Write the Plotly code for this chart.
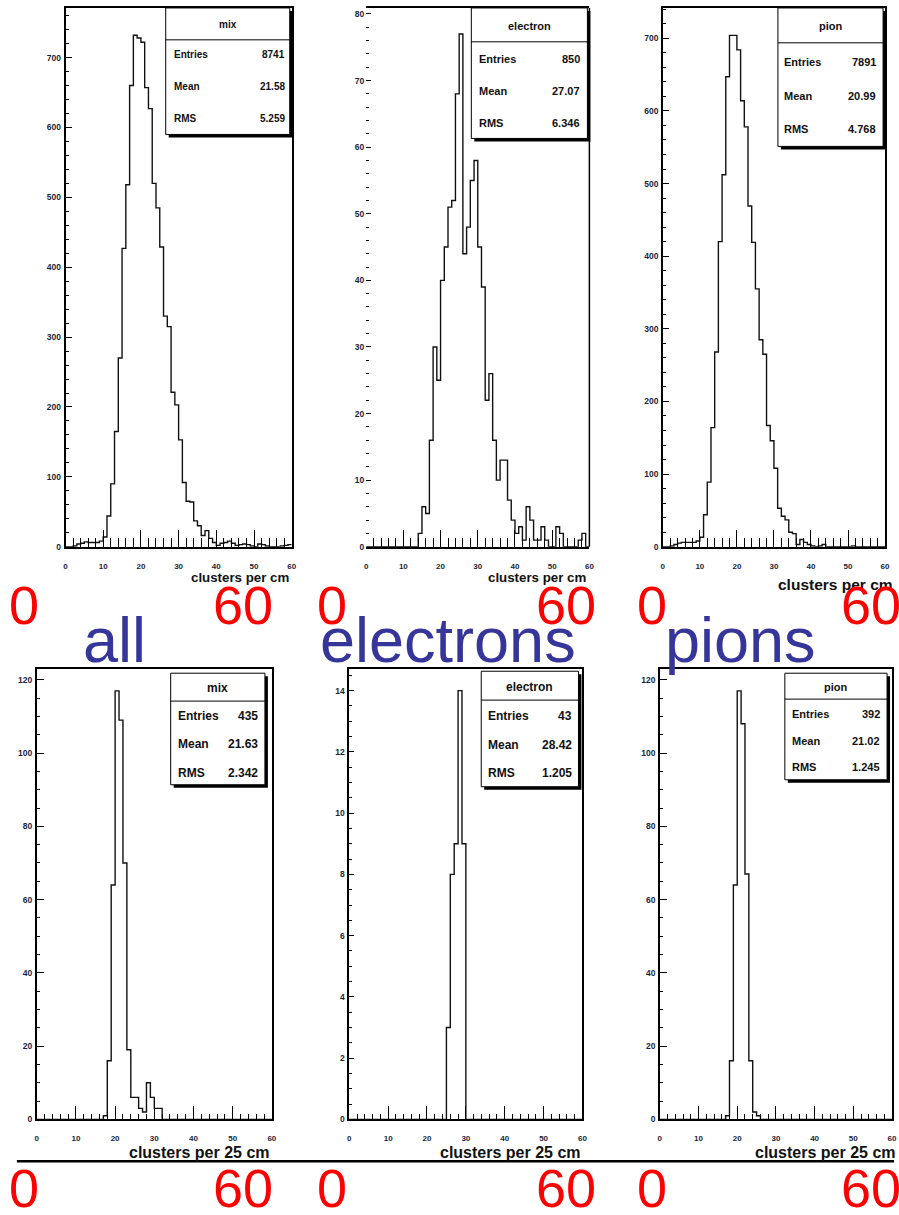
import plotly.graph_objects as go

W, H = 899, 1215
N_BINS = 60
X_RANGE = [0, 60]

# ---------------- data (bin counts, 1-unit bins from 0 to 60) ----------------
mix_cm_first = 2
mix_cm_counts = [1, 4, 5, 7, 6, 6, 6, 8,
                 14, 44, 90, 165, 270, 427, 518, 660, 732, 728,
                 722, 657, 627, 520, 485, 429, 330, 315, 221, 203,
                 153, 92, 65, 64, 37, 30, 16, 23, 12, 6,
                 2, 5, 6, 8, 5, 2, 3, 4, 3, 1,
                 0, 4, 3, 1, 0, 0, 0, 1, 2, 3]

electron_cm_first = 14
electron_cm_counts = [2, 6, 5, 16, 30, 25,
                      40, 45, 51, 52, 68, 77, 44, 48, 55, 58,
                      45, 39, 22, 26, 16, 10, 13, 13, 7, 4,
                      2, 3, 1, 6, 4, 1, 1, 3, 1, 0,
                      0, 3, 2, 0, 0, 0, 0, 1, 2, 0]

pion_cm_first = 2
pion_cm_counts = [1, 3, 5, 6, 6, 6, 6, 8,
                  13, 44, 89, 164, 268, 420, 512, 647, 704, 704,
                  684, 614, 578, 469, 419, 355, 285, 265, 167, 146,
                  108, 53, 42, 37, 20, 18, 3, 10, 6, 3,
                  1, 0, 1, 3, 0, 0, 0, 0, 0, 0,
                  0, 1]

mix_25_first = 17
mix_25_counts = [1, 16, 64, 117, 109, 70, 19, 6, 6, 3, 2, 10, 6, 3, 3]

electron_25_first = 25
electron_25_counts = [3, 8, 9, 14, 9]

pion_25_first = 17
pion_25_counts = [1, 16, 64, 117, 108, 67, 16, 2, 1]

stat_titles = ["mix", "electron", "pion", "mix", "electron", "pion"]
stat_entries = ["8741", "850", "7891", "435", "43", "392"]
stat_means = ["21.58", "27.07", "20.99", "21.63", "28.42", "21.02"]
stat_rms = ["5.259", "6.346", "4.768", "2.342", "1.205", "1.245"]

x_titles = ["clusters per cm", "clusters per cm", "clusters per cm",
            "clusters per 25 cm", "clusters per 25 cm", "clusters per 25 cm"]
column_labels = ["all", "electrons", "pions"]
range_labels = ["0", "60"]

# ---------------- helpers ----------------
FONT = "Liberation Sans, Arial, Helvetica, sans-serif"
TICKC = "#1b1f3b"


def full(first, counts):
    v = [0] * first + list(counts)
    v += [0] * (N_BINS - len(v))
    return v[:N_BINS]


def fx(px):
    return px / W


def fy(py):
    return 1 - py / H


series = [full(mix_cm_first, mix_cm_counts),
          full(electron_cm_first, electron_cm_counts),
          full(pion_cm_first, pion_cm_counts),
          full(mix_25_first, mix_25_counts),
          full(electron_25_first, electron_25_counts),
          full(pion_25_first, pion_25_counts)]

edges = list(range(X_RANGE[0], X_RANGE[1] + 1))

panels = [
    dict(frame=(64, 8, 292, 549), ymax=771, ydt=100, ymn=20, ytl=7, yml=4, xtl=17, xml=9, left=True,
         ytf=8.5, xtf=8, xso=11),
    dict(frame=(367, 8, 592, 549), ymax=80.9, ydt=10, ymn=2, ytl=5, yml=3, xtl=17, xml=9, left=False,
         ytf=8.5, xtf=8, xso=11),
    dict(frame=(666, 8, 890, 549), ymax=741.7, ydt=100, ymn=20, ytl=6, yml=3, xtl=17, xml=9, left=True,
         ytf=8.5, xtf=8, xso=11),
    dict(frame=(35, 672, 272, 1124), ymax=122.9, ydt=20, ymn=5, ytl=8, yml=4, xtl=14, xml=6, left=True,
         ytf=8.5, xtf=8, xso=10),
    dict(frame=(350, 672, 585, 1124), ymax=14.7, ydt=2, ymn=0.5, ytl=5, yml=3, xtl=14, xml=6, left=True,
         ytf=8.5, xtf=8, xso=10),
    dict(frame=(663, 672, 897, 1124), ymax=122.9, ydt=20, ymn=5, ytl=7, yml=3, xtl=14, xml=6, left=True,
         ytf=8.5, xtf=8, xso=10),
]

fig = go.Figure()
layout = dict(width=W, height=H, autosize=False, margin=dict(l=0, r=0, t=0, b=0),
              paper_bgcolor="white", plot_bgcolor="white", showlegend=False)

shapes = []
annotations = []

for i, (p, counts) in enumerate(zip(panels, series)):
    n = "" if i == 0 else str(i + 1)
    x0, y0, x1, y1 = p["frame"]
    fig.add_trace(go.Scatter(
        x=edges, y=counts + [counts[-1]], mode="lines", line_shape="hv",
        line=dict(color="#111111", width=1.4), xaxis="x" + n, yaxis="y" + n,
        hoverinfo="skip"))
    layout["xaxis" + n] = dict(
        domain=[fx(x0), fx(x1)], anchor="y" + n, range=X_RANGE,
        showgrid=False, zeroline=False, showline=True, mirror=True,
        linecolor="black", linewidth=1.5,
        ticks="inside", ticklen=p["xtl"], tickwidth=1, tickcolor="black",
        tick0=0, dtick=10, ticklabelstandoff=p["xso"],
        tickfont=dict(family=FONT, size=p["xtf"], color=TICKC, weight="bold"),
        minor=dict(ticks="inside", dtick=2, tick0=0, ticklen=p["xml"], tickwidth=1,
                   tickcolor="black", showgrid=False))
    layout["yaxis" + n] = dict(
        domain=[fy(y1), fy(y0)], anchor="x" + n, range=[0, p["ymax"]],
        showgrid=False, zeroline=False, showline=p["left"], mirror=True,
        linecolor="black", linewidth=1.5,
        ticks="inside", ticklen=p["ytl"], tickwidth=1, tickcolor="black",
        tick0=0, dtick=p["ydt"], ticklabelstandoff=1,
        tickfont=dict(family=FONT, size=p["ytf"], color=TICKC, weight="bold"),
        minor=dict(ticks="inside", dtick=p["ymn"], tick0=0, ticklen=p["yml"], tickwidth=1,
                   tickcolor="black", showgrid=False))
    if not p["left"]:
        shapes.append(dict(type="line", xref="paper", yref="paper",
                           x0=fx(x1), x1=fx(x1), y0=fy(y0), y1=fy(y1),
                           line=dict(color="black", width=1.5), layer="above"))

# ---------------- stats boxes ----------------
boxes = [
    dict(r=(165, 8, 290, 135), tl=40, ty=25, rows=(55, 87, 119), lx=171, vx=287, fs=10),
    dict(r=(473, 8, 590, 139), tl=42, ty=26, rows=(59, 91, 124), lx=479, vx=585, fs=11),
    dict(r=(782, 8, 888, 147), tl=43, ty=26, rows=(62, 96, 130), lx=786, vx=883, fs=11),
    dict(r=(170, 676, 265, 788), tl=704, ty=691, rows=(719, 747, 776), lx=175, vx=260, fs=12),
    dict(r=(483, 674, 581, 790), tl=703, ty=690, rows=(719, 748, 776), lx=488, vx=576, fs=12),
    dict(r=(789, 676, 892, 783), tl=702, ty=690, rows=(717, 744, 770), lx=794, vx=887, fs=11),
]

for i, b in enumerate(boxes):
    x0, y0, x1, y1 = b["r"]
    shapes.append(dict(type="rect", xref="paper", yref="paper",
                       x0=fx(x0 + 3), x1=fx(x1 + 3), y0=fy(y1 + 3), y1=fy(y0 + 3),
                       fillcolor="black", line=dict(width=0), layer="above"))
    shapes.append(dict(type="rect", xref="paper", yref="paper",
                       x0=fx(x0), x1=fx(x1), y0=fy(y1), y1=fy(y0),
                       fillcolor="white", line=dict(color="black", width=1), layer="above"))
    shapes.append(dict(type="line", xref="paper", yref="paper",
                       x0=fx(x0), x1=fx(x1), y0=fy(b["tl"]), y1=fy(b["tl"]),
                       line=dict(color="black", width=1), layer="above"))
    fnt = dict(family=FONT, size=b["fs"], color="#111111", weight="bold")
    annotations.append(dict(text=stat_titles[i], x=fx((x0 + x1) / 2), y=fy(b["ty"]),
                            xref="paper", yref="paper", showarrow=False,
                            xanchor="center", yanchor="middle", font=fnt))
    for lab, val, ry in zip(["Entries", "Mean", "RMS"],
                            [stat_entries[i], stat_means[i], stat_rms[i]], b["rows"]):
        annotations.append(dict(text=lab, x=fx(b["lx"]), y=fy(ry), xref="paper", yref="paper",
                                showarrow=False, xanchor="left", yanchor="middle", font=fnt))
        annotations.append(dict(text=val, x=fx(b["vx"]), y=fy(ry), xref="paper", yref="paper",
                                showarrow=False, xanchor="right", yanchor="middle", font=fnt))

# ---------------- axis titles ----------------
xt_pos = [(291, 580, "right", 13.3), (591, 580, "right", 13.3), (780, 587, "left", 15.5),
          (272, 1157, "right", 16), (586, 1157, "right", 16), (757, 1157, "left", 16)]
for t, (xp, yp, anc, fs) in zip(x_titles, xt_pos):
    annotations.append(dict(text=t, x=fx(xp), y=fy(yp), xref="paper", yref="paper",
                            showarrow=False, xanchor=anc, yanchor="middle",
                            font=dict(family=FONT, size=fs, color="#111111", weight="bold")))

# ---------------- big red range labels ----------------
red_x = [(22, 243), (333, 568), (655, 876)]
for yp in (608, 1193):
    for (a, b_) in red_x:
        for lab, xp in zip(range_labels, (a, b_)):
            annotations.append(dict(text=lab, x=fx(xp), y=fy(yp), xref="paper", yref="paper",
                                    showarrow=False, xanchor="center", yanchor="middle",
                                    font=dict(family=FONT, size=54, color="#ff0000")))

# ---------------- blue column labels ----------------
for lab, xp in zip(column_labels, (113, 450, 744)):
    annotations.append(dict(text=lab, x=fx(xp), y=fy(643), xref="paper", yref="paper",
                            showarrow=False, xanchor="center", yanchor="middle",
                            font=dict(family=FONT, size=63, color="#35359a")))

# separator line
shapes.append(dict(type="line", xref="paper", yref="paper",
                   x0=fx(15), x1=fx(899), y0=fy(1166), y1=fy(1166),
                   line=dict(color="black", width=2.5), layer="above"))

layout["shapes"] = shapes
layout["annotations"] = annotations
fig.update_layout(**layout)
fig.write_html(
    "out.html",
    post_script="document.body.style.margin='0';document.body.style.padding='0';"
                "document.documentElement.style.overflow='hidden';"
                "document.body.style.overflow='hidden';")
